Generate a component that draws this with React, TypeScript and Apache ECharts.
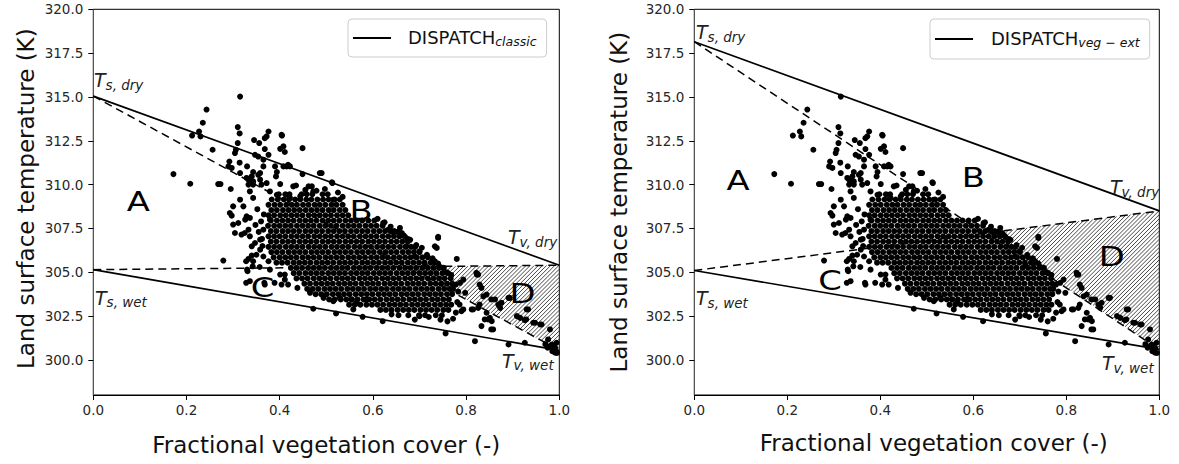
import React, { useEffect, useRef } from "react";
import * as echarts from "echarts";

const FONT = "DejaVu Sans";

const X_TICKS = [0, 0.2, 0.4, 0.6, 0.8, 1.0];
const Y_TICKS = [300, 302.5, 305, 307.5, 310, 312.5, 315, 317.5, 320];

// End members [Ts,dry, Tv,dry, Ts,wet, Tv,wet] (K)
const CLASSIC_END_MEMBERS = [315.05, 305.4, 305.15, 300.55];
const VEG_EXT_END_MEMBERS = [318.15, 308.5, 305.1, 300.6];

// Scattered observations (fv, LST)
const SCATTER_SPARSE: number[][] = [
  [0.315, 315.02], [0.243, 314.28], [0.235, 313.53], [0.227, 313.03], [0.230, 312.75], [0.212, 312.8],
  [0.310, 313.28], [0.314, 312.92], [0.256, 311.99], [0.172, 310.6], [0.208, 310.05], [0.268, 310.03],
  [0.273, 310.03], [0.295, 309.75], [0.306, 311.99], [0.310, 312.37], [0.304, 311.8], [0.376, 313.03],
  [0.372, 312.75], [0.368, 312.65], [0.405, 312.8], [0.345, 312.54], [0.356, 312.37], [0.368, 312.03],
  [0.401, 312.04], [0.411, 311.86], [0.449, 312.08], [0.347, 311.7], [0.354, 311.6], [0.365, 311.42],
  [0.376, 311.7], [0.292, 311.32], [0.290, 311.04], [0.297, 310.95], [0.314, 311.25], [0.330, 311.04],
  [0.343, 310.72], [0.340, 310.47], [0.336, 310.28], [0.329, 310.38], [0.333, 310.0], [0.343, 310.0],
  [0.354, 310.56], [0.358, 310.28], [0.361, 310.0], [0.390, 311.04], [0.394, 310.72], [0.392, 310.47],
  [0.415, 311.04], [0.422, 311.04], [0.449, 310.6], [0.486, 310.66], [0.490, 310.66], [0.513, 310.09],
  [0.435, 309.95], [0.479, 309.65], [0.401, 310.03], [0.372, 310.09], [0.379, 309.61], [0.394, 309.42],
  [0.415, 309.42], [0.422, 309.24], [0.336, 309.61], [0.343, 309.24], [0.404, 312.84], [0.408, 312.18],
  [0.512, 310.13], [0.418, 311.13], [0.469, 309.9], [0.472, 309.61], [0.444, 309.33], [0.429, 309.9],
  [0.315, 310.66], [0.333, 310.28], [0.343, 310.18], [0.358, 310.66], [0.365, 311.04], [0.408, 311.04],
  [0.293, 308.38], [0.300, 308.76], [0.315, 309.14], [0.326, 308.0], [0.333, 307.43],
  [0.297, 308.23], [0.300, 307.72], [0.311, 307.81], [0.304, 307.24], [0.322, 308.76], [0.329, 308.19],
  [0.336, 308.1], [0.318, 307.15], [0.325, 307.24], [0.336, 307.05], [0.340, 306.48], [0.347, 306.67],
  [0.358, 306.29], [0.279, 305.67], [0.333, 305.76], [0.340, 305.95], [0.343, 305.63], [0.330, 305.15],
  [0.336, 304.49], [0.368, 304.3], [0.376, 305.63], [0.379, 305.15], [0.404, 304.3], [0.418, 304.3],
  [0.438, 304.11], [0.358, 306.86], [0.365, 307.43], [0.379, 308.0], [0.401, 304.87], [0.411, 304.87],
  [0.411, 304.58], [0.465, 303.83], [0.494, 303.54], [0.515, 303.35], [0.472, 302.92], [0.521, 302.65],
  [0.558, 302.88], [0.578, 302.46], [0.529, 303.54], [0.554, 303.45], [0.565, 303.26], [0.587, 303.45],
  [0.621, 302.21], [0.756, 301.51], [0.819, 301.07], [0.891, 300.88], [0.926, 300.98],
  [0.328, 305.63], [0.342, 305.34], [0.331, 305.06], [0.328, 304.4], [0.367, 304.4], [0.389, 304.4],
  [0.352, 308.6], [0.360, 307.9], [0.355, 307.3], [0.362, 306.9], [0.350, 306.0], [0.365, 305.9],
  [0.357, 305.3], [0.348, 307.7], [0.366, 308.3], [0.363, 306.5],
  [0.455, 309.7], [0.462, 309.9], [0.497, 309.75], [0.525, 309.55], [0.535, 309.3],
  [0.610, 308.05], [0.625, 307.85], [0.638, 307.6],
  [0.652, 307.3], [0.666, 307.1], [0.680, 306.85], [0.693, 306.55], [0.705, 306.4], [0.716, 306.0],
  [0.728, 305.8], [0.740, 305.5], [0.515, 309.14],
  [0.622, 307.81], [0.633, 307.43], [0.658, 307.53], [0.662, 307.24], [0.669, 307.02], [0.672, 306.48],
  [0.690, 305.9], [0.700, 306.2], [0.712, 305.4], [0.675, 306.9], [0.642, 307.3],
  [0.740, 307.02], [0.740, 306.96], [0.733, 306.48], [0.737, 306.39], [0.780, 305.76], [0.733, 305.63],
  [0.826, 304.87], [0.823, 304.87], [0.787, 304.4], [0.794, 304.58], [0.798, 303.83], [0.794, 302.88],
  [0.815, 302.88], [0.826, 302.97], [0.833, 304.11], [0.837, 303.63], [0.844, 302.69], [0.847, 302.31],
  [0.851, 302.4], [0.854, 301.74], [0.833, 301.93], [0.854, 303.45], [0.862, 303.45], [0.869, 303.16],
  [0.873, 302.97], [0.876, 303.26], [0.891, 303.54], [0.909, 302.5], [0.916, 302.4], [0.929, 302.31],
  [0.933, 302.88], [0.948, 302.12], [0.959, 302.02], [0.980, 301.74], [0.976, 301.17], [0.984, 300.88],
  [0.987, 300.79], [0.991, 300.69], [0.994, 300.98], [0.991, 300.41], [0.975, 300.7], [0.970, 300.9],
  [0.985, 300.5], [0.995, 300.4], [0.786, 303.16], [0.790, 302.78], [0.812, 302.88], [0.829, 303.16],
  [0.840, 302.31], [0.855, 302.21], [0.858, 301.74], [0.822, 304.97], [0.829, 304.3], [0.844, 303.73],
  [0.894, 303.54], [0.930, 302.88], [0.926, 302.27], [0.944, 302.12], [0.962, 302.02], [0.980, 300.79],
  [0.745, 305.3], [0.758, 305.0], [0.768, 304.85], [0.778, 304.3], [0.783, 303.9], [0.781, 303.3],
  [0.778, 302.7], [0.772, 302.35], [0.760, 302.2], [0.745, 302.3], [0.720, 302.45], [0.700, 302.5],
  [0.690, 302.3], [0.655, 302.55], [0.640, 302.6],
];

// Dense core of the cloud, read row by row: [LST, fv values]
const SCATTER_DENSE_ROWS: [number, number[]][] = [
  [309.45, [0.398, 0.412, 0.421, 0.447, 0.458, 0.470, 0.492, 0.503]],
  [309.15, [0.383, 0.396, 0.409, 0.420, 0.433, 0.444, 0.457, 0.468, 0.481, 0.493, 0.505, 0.518, 0.529]],
  [308.85, [0.376, 0.389, 0.401, 0.414, 0.426, 0.437, 0.450, 0.462, 0.475, 0.486, 0.498, 0.511, 0.522, 0.535]],
  [308.55, [0.382, 0.394, 0.407, 0.419, 0.431, 0.443, 0.456, 0.468, 0.480, 0.492, 0.505, 0.516, 0.529, 0.541]],
  [308.25, [0.376, 0.388, 0.401, 0.413, 0.425, 0.437, 0.449, 0.462, 0.474, 0.486, 0.498, 0.510, 0.523, 0.535, 0.547]],
  [307.95, [0.381, 0.394, 0.406, 0.418, 0.430, 0.443, 0.455, 0.467, 0.479, 0.492, 0.504, 0.516, 0.528, 0.541, 0.553, 0.565, 0.577, 0.590, 0.603]],
  [307.65, [0.375, 0.388, 0.400, 0.412, 0.424, 0.437, 0.449, 0.461, 0.473, 0.486, 0.498, 0.510, 0.522, 0.535, 0.547, 0.559, 0.571, 0.584, 0.596, 0.608, 0.621]],
  [307.35, [0.381, 0.393, 0.406, 0.418, 0.430, 0.442, 0.455, 0.467, 0.479, 0.491, 0.504, 0.516, 0.528, 0.540, 0.553, 0.565, 0.577, 0.589, 0.602, 0.614, 0.626, 0.638, 0.646]],
  [307.05, [0.376, 0.388, 0.400, 0.412, 0.425, 0.437, 0.449, 0.461, 0.474, 0.486, 0.498, 0.510, 0.523, 0.535, 0.547, 0.559, 0.572, 0.584, 0.596, 0.608, 0.621, 0.633, 0.645, 0.657]],
  [306.75, [0.381, 0.393, 0.406, 0.418, 0.430, 0.443, 0.455, 0.467, 0.479, 0.492, 0.504, 0.516, 0.528, 0.541, 0.553, 0.565, 0.577, 0.590, 0.602, 0.614, 0.626, 0.639, 0.651, 0.663, 0.675]],
  [306.45, [0.376, 0.388, 0.400, 0.413, 0.425, 0.437, 0.449, 0.462, 0.474, 0.486, 0.498, 0.511, 0.523, 0.535, 0.547, 0.560, 0.572, 0.584, 0.596, 0.609, 0.621, 0.633, 0.645, 0.658, 0.670, 0.682, 0.691]],
  [306.15, [0.382, 0.394, 0.406, 0.419, 0.431, 0.443, 0.455, 0.468, 0.480, 0.492, 0.504, 0.517, 0.529, 0.541, 0.553, 0.566, 0.578, 0.590, 0.602, 0.615, 0.627, 0.639, 0.651, 0.664, 0.676, 0.688, 0.700]],
  [305.85, [0.387, 0.400, 0.412, 0.424, 0.436, 0.449, 0.461, 0.473, 0.485, 0.498, 0.510, 0.522, 0.534, 0.547, 0.559, 0.571, 0.583, 0.596, 0.608, 0.620, 0.632, 0.645, 0.657, 0.669, 0.681, 0.694, 0.706, 0.718]],
  [305.55, [0.393, 0.405, 0.417, 0.430, 0.442, 0.454, 0.466, 0.479, 0.491, 0.503, 0.515, 0.528, 0.540, 0.552, 0.564, 0.577, 0.589, 0.601, 0.613, 0.626, 0.638, 0.650, 0.662, 0.675, 0.687, 0.699, 0.711, 0.724, 0.733]],
  [305.25, [0.424, 0.436, 0.448, 0.461, 0.473, 0.485, 0.497, 0.510, 0.522, 0.534, 0.546, 0.559, 0.571, 0.583, 0.595, 0.608, 0.620, 0.632, 0.644, 0.657, 0.669, 0.681, 0.693, 0.706, 0.718, 0.730, 0.742, 0.752]],
  [304.95, [0.430, 0.442, 0.455, 0.467, 0.479, 0.491, 0.504, 0.516, 0.528, 0.540, 0.553, 0.565, 0.577, 0.589, 0.602, 0.614, 0.626, 0.638, 0.651, 0.663, 0.675, 0.687, 0.700, 0.712, 0.724, 0.736, 0.749, 0.761]],
  [304.65, [0.436, 0.448, 0.460, 0.473, 0.485, 0.497, 0.509, 0.522, 0.534, 0.546, 0.558, 0.571, 0.583, 0.595, 0.607, 0.620, 0.632, 0.644, 0.656, 0.669, 0.681, 0.693, 0.705, 0.718, 0.730, 0.742, 0.754, 0.767]],
  [304.35, [0.453, 0.465, 0.478, 0.490, 0.502, 0.514, 0.527, 0.539, 0.551, 0.563, 0.576, 0.588, 0.600, 0.612, 0.625, 0.637, 0.649, 0.661, 0.674, 0.686, 0.698, 0.710, 0.723, 0.735, 0.747, 0.759, 0.770]],
  [304.05, [0.459, 0.471, 0.483, 0.496, 0.508, 0.520, 0.532, 0.545, 0.557, 0.569, 0.581, 0.594, 0.606, 0.618, 0.630, 0.643, 0.655, 0.667, 0.679, 0.692, 0.704, 0.716, 0.728, 0.741, 0.753, 0.765, 0.772]],
  [303.75, [0.477, 0.489, 0.501, 0.514, 0.526, 0.538, 0.550, 0.563, 0.575, 0.587, 0.599, 0.612, 0.624, 0.636, 0.648, 0.661, 0.673, 0.685, 0.697, 0.710, 0.722, 0.734, 0.746, 0.759, 0.770]],
  [303.45, [0.506, 0.518, 0.531, 0.543, 0.555, 0.567, 0.580, 0.592, 0.604, 0.616, 0.629, 0.641, 0.653, 0.665, 0.678, 0.690, 0.702, 0.714, 0.727, 0.739, 0.751, 0.763]],
  [303.15, [0.549, 0.561, 0.573, 0.586, 0.598, 0.610, 0.622, 0.635, 0.647, 0.659, 0.671, 0.684, 0.696, 0.708, 0.720, 0.733, 0.745, 0.757, 0.768]],
  [302.85, [0.616, 0.628, 0.640, 0.653, 0.665, 0.677, 0.689, 0.702, 0.714, 0.726, 0.738, 0.751, 0.762]],
  [302.55, [0.676, 0.699, 0.712, 0.735, 0.748]],
];

const POINTS: number[][] = [
  ...SCATTER_DENSE_ROWS.flatMap(([y, xs]) => xs.map((x) => [x, y])),
  ...SCATTER_SPARSE,
];

function hatchRenderer(em: number[]) {
  return (_params: any, api: any) => {
    const [tsDry, tvDry, tsWet, tvWet] = em;
    const s1 = tvWet - tsDry;
    const s2 = tvDry - tsWet;
    const xi = (tsWet - tsDry) / (s1 - s2);
    const yi = tsDry + s1 * xi;
    const pts = [api.coord([xi, yi]), api.coord([1, tvDry]), api.coord([1, tvWet])];
    const sp = 2.9 * Math.SQRT2;
    const sums = pts.map((p: number[]) => p[0] + p[1]);
    const cMin = Math.min(...sums);
    const cMax = Math.max(...sums);
    const children: any[] = [];
    for (let c = Math.ceil(cMin / sp) * sp; c <= cMax; c += sp) {
      const hits: number[][] = [];
      for (let k = 0; k < 3; k++) {
        const a = pts[k];
        const b = pts[(k + 1) % 3];
        const fa = a[0] + a[1] - c;
        const fb = b[0] + b[1] - c;
        if ((fa <= 0 && fb > 0) || (fa > 0 && fb <= 0)) {
          const t = fa / (fa - fb);
          hits.push([a[0] + (b[0] - a[0]) * t, a[1] + (b[1] - a[1]) * t]);
        }
      }
      if (hits.length >= 2) {
        children.push({
          type: "line",
          shape: { x1: hits[0][0], y1: hits[0][1], x2: hits[1][0], y2: hits[1][1] },
          style: { stroke: "#333", lineWidth: 0.9 },
        });
      }
    }
    return { type: "group", children };
  };
}

function panelSeries(idx: number, em: number[], legendName: string) {
  const [tsDry, tvDry, tsWet, tvWet] = em;
  const base = { type: "line", xAxisIndex: idx, yAxisIndex: idx, symbol: "none", silent: true, z: 5 };
  const solid = { color: "#000", width: 1.7 };
  const dashed = { color: "#000", width: 1.5, type: [8, 5] };
  return [
    {
      type: "custom", xAxisIndex: idx, yAxisIndex: idx, data: [[1, tvWet]],
      renderItem: hatchRenderer(em), z: 1, silent: true,
    },
    {
      type: "scatter", xAxisIndex: idx, yAxisIndex: idx, data: POINTS, symbolSize: 6,
      itemStyle: { color: "#000", opacity: 1 }, z: 2, silent: true,
    },
    { ...base, name: legendName, data: [[0, tsDry], [1, tvDry]], lineStyle: solid, itemStyle: { color: "#000" } },
    { ...base, name: legendName + " wet", data: [[0, tsWet], [1, tvWet]], lineStyle: solid },
    { ...base, name: legendName + " d1", data: [[0, tsDry], [1, tvWet]], lineStyle: dashed },
    { ...base, name: legendName + " d2", data: [[0, tsWet], [1, tvDry]], lineStyle: dashed },
  ];
}

const tickLabel = { fontFamily: FONT, fontSize: 13.5, color: "#262626" };

function xAxis(idx: number, gap: number, pad: number[]) {
  return {
    type: "value", gridIndex: idx, min: 0, max: 1, interval: 0.2,
    axisLine: { show: true, lineStyle: { color: "#000", width: 1 } },
    axisTick: { show: true, length: 5, lineStyle: { color: "#000" } },
    splitLine: { show: false },
    axisLabel: { ...tickLabel, margin: 8, formatter: (v: number) => v.toFixed(1) },
    name: "Fractional vegetation cover (-)", nameLocation: "middle", nameGap: gap,
    nameTextStyle: { fontFamily: FONT, fontSize: 23, color: "#111", padding: pad },
  };
}

function yAxis(idx: number, gap: number, pad: number[]) {
  return {
    type: "value", gridIndex: idx, min: 298, max: 320,
    axisLine: { show: true, lineStyle: { color: "#555", width: 1 } },
    axisTick: { show: true, length: 5, lineStyle: { color: "#000" }, customValues: Y_TICKS },
    splitLine: { show: false },
    axisLabel: { ...tickLabel, margin: 10, customValues: Y_TICKS, formatter: (v: number) => v.toFixed(1) },
    name: "Land surface temperature (K)", nameLocation: "middle", nameGap: gap,
    nameTextStyle: { fontFamily: FONT, fontSize: 23, color: "#111", padding: pad },
  };
}

function legend(name: string, sub: string, left: number, pad: number[], textPad: number) {
  return {
    data: [name], left, top: 19, icon: "rect", itemWidth: 38, itemHeight: 2,
    padding: pad, backgroundColor: "rgba(255,255,255,0.85)", borderColor: "#ccc",
    borderWidth: 1, borderRadius: 4, selectedMode: false,
    itemStyle: { color: "#000" },
    formatter: () => `{a|DISPATCH}{b|${sub}}`,
    textStyle: {
      padding: [0, 0, 0, textPad],
      rich: {
        a: { fontFamily: FONT, fontSize: 18, color: "#111", verticalAlign: "bottom", padding: [0, 0, 2, 0] },
        b: { fontFamily: FONT, fontSize: 12.5, fontStyle: "italic", color: "#111", verticalAlign: "bottom" },
      },
    },
  };
}

function tLabel(x: number, yBottom: number, sub: string) {
  return {
    type: "text", x, y: yBottom, z: 100, silent: true,
    style: {
      text: `{t|T}{s|${sub}}`,
      align: "left", textAlign: "left", verticalAlign: "bottom", textVerticalAlign: "bottom",
      rich: {
        t: { fontFamily: FONT, fontStyle: "italic", fontSize: 19, lineHeight: 19, padding: [0, 0, 2, 0], verticalAlign: "bottom", fill: "#222" },
        s: { fontFamily: FONT, fontStyle: "italic", fontSize: 13.5, lineHeight: 13.5, verticalAlign: "bottom", fill: "#222" },
      },
    },
  };
}

function zoneLabel(txt: string, x: number, y: number) {
  return {
    type: "text", x, y, z: 100, silent: true, scaleX: 1.3,
    style: {
      text: txt, fontFamily: FONT, fontSize: 26, fill: "#000",
      align: "center", textAlign: "center", verticalAlign: "middle", textVerticalAlign: "middle",
    },
  };
}

export default function App() {
  const ref = useRef<HTMLDivElement>(null);
  useEffect(() => {
    if (!ref.current) return;
    const chart = echarts.init(ref.current, undefined, { renderer: "svg" });
    chart.setOption({
      animation: false,
      backgroundColor: "#fff",
      grid: [
        { left: 93.3, top: 9.3, width: 466, height: 385.7, show: true, borderColor: "#000", borderWidth: 1, backgroundColor: "transparent" },
        { left: 694.3, top: 9.3, width: 465, height: 385.7, show: true, borderColor: "#000", borderWidth: 1, backgroundColor: "transparent" },
      ],
      xAxis: [xAxis(0, 38, [0, 0, 0, 0]), xAxis(1, 36, [0, 0, 0, 14])],
      yAxis: [yAxis(0, 56, [0, 0, 0, 7]), yAxis(1, 64, [0, 0, 0, 0])],
      legend: [
        legend("DISPATCH classic", "classic", 348, [9, 10, 9, 5], 12),
        legend("DISPATCH veg-ext", "veg − ext", 930, [10, 10, 10, 5], 13),
      ],
      series: [
        ...panelSeries(0, CLASSIC_END_MEMBERS, "DISPATCH classic"),
        ...panelSeries(1, VEG_EXT_END_MEMBERS, "DISPATCH veg-ext"),
      ],
      graphic: [
        tLabel(94, 91.8, "s, dry"),
        tLabel(508, 248.8, "v, dry"),
        tLabel(95, 309.3, "s, wet"),
        tLabel(502, 372.3, "v, wet"),
        tLabel(696, 43.8, "s, dry"),
        tLabel(1110, 198.8, "v, dry"),
        tLabel(696, 309.8, "s, wet"),
        tLabel(1102, 374.8, "v, wet"),
        zoneLabel("A", 138.3, 201.7),
        zoneLabel("B", 361, 210.5),
        zoneLabel("C", 262.5, 287.5),
        zoneLabel("D", 522.5, 293.5),
        zoneLabel("A", 738, 181.4),
        zoneLabel("B", 973.3, 177.7),
        zoneLabel("C", 830, 281),
        zoneLabel("D", 1111.7, 256.7),
      ],
    });
    return () => chart.dispose();
  }, []);
  return <div ref={ref} style={{ position: "fixed", left: 0, top: 0, width: 1179, height: 464 }} />;
}
